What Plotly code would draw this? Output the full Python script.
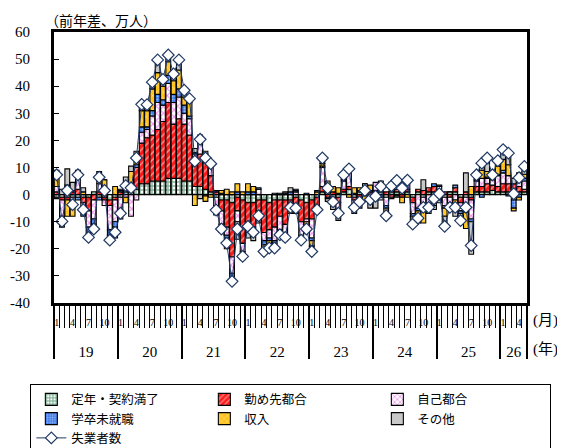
import plotly.graph_objects as go

# ---------------- data (万人, 前年差) ----------------
months = list(range(1, 90))          # 2019/1 ... 2026/5
year_labels = ["19", "20", "21", "22", "23", "24", "25", "26"]
month_tick_labels = ["1", "4", "7", "10"]
y_tick_values = [-40, -30, -20, -10, 0, 10, 20, 30, 40, 50, 60]
y_tick_labels = ["-40", "-30", "-20", "-10", "0", "10", "20", "30", "40", "50", "60"]

teinen = [-1, -1, -1, -1, -1, -1, -1, 1, -1, -1, -2, -1,
          -1, 1, 1, 2, 4, 4, 5, 5, 5, 6, 6, 6,
          5, 5, 3, 3, 2, 1, -1, -2, -2, -3, -1, -2,
          -3, -3, -2, -2, -3, -2, -2, -2, -2, -1, -2, -3,
          -2, -1, 1, 1, -1, -1, 1, 2, -1, 1, 1, -1,
          0.5, 1, -1, 1, 1, 1, 1, -1, 1, -1, 1, 1,
          1, -1, 1, 1, -1, -1, -1, 1, 1, 1, 1.5, 1,
          1, 1, 1, 1, 1]

kinmusaki = [1, -1, -1, 1, 2, -2, -5, -2, 1, -1, -2, -1,
             1, 2, 2, 8, 15, 17, 17, 19, 22, 28, 20, 22,
             21, 17, 10, 12, 10, 6, 1, -4, -10, -20, -5, -16,
             -8, -9, -4, -12, -10, -10, -6, -9, -2, -4, -8, -6,
             -7, -3, 2, -1, 1, -2, 1, 1, -1, -1, 1, 1,
             1, -1, 1, -1, 1, -1, 1, -2, 1, 1.5, 1.5, 2,
             -1, 1, -1, 1.5, -2, 1, -1, 2, 2, 3, 2, 2,
             3, 3, 3, 2, 1]

jiko = [2, -6, 3, -2, 4, -3, -6, -7, 3, -2, -9, -8,
        -6, -1, -8, -2, 4, 3, 7, 10, 6, 7, 8, 8,
        4, 6, 2, 4, 3, 3, -3, -5, -3, -6, -4, -3,
        -3, -3, 2, -3, -3, -5, -5, -4, -1, 1, -5, -1,
        -7, -2, 7, 2, -2, -4, 3, 6, -2, -2, 2, -2,
        3, 2, -3, 2, 2, 3, 3, -4, -5, -3, -4, -2,
        2, -3, -2, -2, -3, -4, -7, 2, 3, 2, 2, 4,
        4, 3, -2, 2, 3]

gakusotsu = [-0.5, -1, 0.5, 0.5, -1, -2, -3, -2, -1, 0.5, -2, -2,
             0.5, 1, 0.5, 1, 2, 1, 2, 3, 2, 3, 3, 3,
             3, 1, 0.5, 2, -0.5, 1, 0.5, 0.5, -1, -2, 1, -2,
             1, 1, 0.5, -1.5, -1, -1, 0.5, 0.5, 1, 0.5, -0.5, 0.5,
             -1, -1, 0.5, -0.5, -0.5, 0.5, 0.5, 0.5, 0.5, 0.5, -0.5, 0.5,
             -1, 0.5, -1, 0.5, -0.5, 0.5, 0.5, -1, -1, -2, -1, 1,
             0.5, -1, -0.5, 1, -1, -1.5, -1, 0.5, -1, 0.5, 0.5, 0.5,
             1, -0.5, -3, -1, 1]

shunyu = [3.5, -3, -6, -5, 1, 1, 0, -2, 3, 5, -1, 3,
          -2, -2, 5, 3, 6, 6, 8, 8, 5, 5, 5, 7,
          3, 5, -4, 1, -2, -1, -3, 1, 2, 1, 3, 1,
          3, 2, -3, -1, -2, -2, -1, -2, -2, -2, -1, -3,
          -2, 1, 1, 2, 2, 2, 1, -1, 2, 1, -2, 2,
          -1, 1.5, -2, 1, 2, -2, -1, -2, -3, -4.5, -1, -2,
          -1, -3, -2, -3, -2, -6, 3, 1, 3, 2, 1, 3,
          4, 4, -1, -1, 1.5]

sonota = [2.5, 2, 6, 3, 2, 1.5, -1, -1, 1.5, 0, -1, -4,
          0.5, 2.5, 2, 2, 2.5, 2, 2.5, 4.5, 2.5, 2.5, 2.5, 3.5,
          2.5, 1.5, 1.5, -1.5, 1, 1.5, -0.5, -3, -4, -2, -6.5, -1,
          -2, -2, -1.5, -1.5, -0.5, 0.5, -1.5, 0.5, 1.5, 0.5, -0.5, -0.5,
          -2, 0.5, 2, -1, -2, -2.5, 1, 1, -3, -2, 0, -2,
          -3, -1, -2, -0.5, -0.5, 1, 1, -1, -1.5, 4, -1, -1.5,
          -1, -4.5, 0, -3, -1, 7, -12, 1, 3.5, 5, 0.5, 2,
          3.5, 5, 2, 3, 3]

shitsugyo = [7.3, -9.9, 1.5, -3.7, 7.3, -5.6, -15.8, -12.7, 6.4, 1.5, -16.8, -13.9,
             -6.9, 3.3, 2.5, 13.5, 33.3, 33.2, 41.5, 49.7, 42.5, 51.5, 44.5, 49.7,
             38.5, 35.4, 12.3, 20.4, 13.5, 11.4, -5.7, -12.7, -17.9, -32.0, -12.7, -22.8,
             -11.7, -13.9, -7.8, -21.0, -19.7, -19.7, -14.8, -15.8, -4.7, -5.0, -16.8, -12.7,
             -21.0, -5.6, 13.5, 2.4, -2.7, -6.9, 7.3, 9.5, -4.7, -2.7, 1.5, -1.8,
             -0.6, 3.0, -7.8, 3.2, 5.2, 2.4, 5.3, -10.9, -8.7, -4.7, -4.7, -1.6,
             0.3, -11.7, -4.7, -4.7, -9.6, -4.7, -18.8, 7.3, 11.6, 13.5, 7.3, 12.5,
             16.6, 15.3, 0.3, 6.2, 10.4]

for arr in (teinen, kinmusaki, jiko, gakusotsu, shunyu, sonota, shitsugyo):
    assert len(arr) == len(months), len(arr)

# ---------------- styling ----------------
SERIF = "Liberation Serif, Noto Sans CJK JP, serif"
JP = "Noto Sans CJK JP, sans-serif"
NAVY = "#1F3864"

bar_series = [
    ("定年・契約満了", teinen, dict(shape="+", fgcolor="#0E6A32", bgcolor="white", size=4, solidity=0.6)),
    ("勤め先都合", kinmusaki, dict(shape="/", fgcolor="white", bgcolor="#FF1A1A", size=5, solidity=0.3)),
    ("自己都合", jiko, dict(shape="x", fgcolor="#E02EE0", bgcolor="white", size=5, solidity=0.4)),
    ("学卒未就職", gakusotsu, dict(shape=".", fgcolor="white", bgcolor="#3D7BEB", size=3, solidity=0.35)),
    ("収入", shunyu, dict(shape="x", fgcolor="white", bgcolor="#FFC21A", size=5, solidity=0.25)),
    ("その他", sonota, dict(shape="", fgcolor="#C8C8C8", bgcolor="#C8C8C8")),
]

fig = go.Figure()
for name, vals, pat in bar_series:
    fig.add_trace(go.Bar(
        x=months, y=vals, name=name,
        marker=dict(color=pat["bgcolor"], pattern=pat,
                    line=dict(color="black", width=1.1)),
    ))

fig.add_trace(go.Scatter(
    x=months, y=shitsugyo, name="失業者数", mode="lines+markers",
    line=dict(color=NAVY, width=1),
    marker=dict(symbol="diamond", size=9, color="white",
                line=dict(color=NAVY, width=1.2)),
))

# invisible trace to carry the year axis
fig.add_trace(go.Scatter(x=months, y=[None] * len(months), xaxis="x2",
                         showlegend=False, hoverinfo="skip"))

# ---------------- axes ----------------
n = len(months)
lo, hi = months[0] - 0.5, months[-1] + 0.5
month_pos, month_txt = [], []
for k in range(len(year_labels)):
    for m in month_tick_labels:
        p = 12 * k + int(m)
        if p <= n:
            month_pos.append(p)
            month_txt.append(m)
month_bounds = [m + 0.5 for m in [0] + months]
year_bounds = [lo + 12 * k for k in range(len(year_labels))] + [hi]
year_centers = [(year_bounds[k] + year_bounds[k + 1]) / 2 for k in range(len(year_labels))]

# the page body adds an 8px offset; margins compensate so the plot lands where the reference has it
fig.update_layout(
    width=565, height=448, autosize=False,
    margin=dict(l=46, r=46, t=24, b=153, autoexpand=False),
    paper_bgcolor="white", plot_bgcolor="white",
    barmode="relative", bargap=0.1,
    font=dict(family=SERIF, size=14, color="black"),
    xaxis=dict(
        range=[lo, hi], showline=True, linewidth=3, linecolor="black", mirror=True,
        showgrid=False, zeroline=False, automargin=False,
        tickmode="array", tickvals=month_pos, ticktext=month_txt, ticks="",
        tickfont=dict(family=SERIF, size=10), ticklabelstandoff=8,
        minor=dict(tickmode="array", tickvals=month_bounds, ticks="outside",
                   ticklen=22, tickwidth=1, tickcolor="black", showgrid=False),
    ),
    xaxis2=dict(
        overlaying="x", anchor="y", side="bottom", range=[lo, hi], automargin=False,
        showline=False, showgrid=False, zeroline=False,
        tickmode="array", tickvals=year_centers, ticktext=year_labels, ticks="",
        tickfont=dict(family=SERIF, size=15), ticklabelstandoff=38,
        minor=dict(tickmode="array", tickvals=year_bounds, ticks="outside",
                   ticklen=55, tickwidth=1.5, tickcolor="black", showgrid=False),
    ),
    yaxis=dict(
        range=[-40, 60], showline=True, linewidth=3, linecolor="black", mirror=True,
        showgrid=False, zeroline=True, zerolinecolor="black", zerolinewidth=1,
        automargin=False,
        tickmode="array", tickvals=y_tick_values, ticktext=y_tick_labels,
        ticks="inside", ticklen=5, tickwidth=1, tickcolor="black",
        tickfont=dict(family=SERIF, size=15), ticklabelstandoff=18,
    ),
    legend=dict(
        orientation="h", x=-0.05, xanchor="left", y=-0.298, yanchor="top",
        bordercolor="black", borderwidth=1, bgcolor="white",
        font=dict(family=JP, size=12.5), entrywidth=128, traceorder="normal",
        itemwidth=30, tracegroupgap=0,
    ),
    annotations=[
        dict(text="（前年差、万人）", xref="paper", yref="paper", x=-0.023, y=1.045,
             xanchor="left", yanchor="middle", showarrow=False,
             font=dict(family=JP, size=14)),
        dict(text="(月)", xref="paper", yref="paper", x=1.008, y=-0.063,
             xanchor="left", yanchor="middle", showarrow=False,
             font=dict(family=SERIF, size=15)),
        dict(text="(年)", xref="paper", yref="paper", x=1.008, y=-0.173,
             xanchor="left", yanchor="middle", showarrow=False,
             font=dict(family=SERIF, size=15)),
    ],
)

fig.write_html("out.html")
